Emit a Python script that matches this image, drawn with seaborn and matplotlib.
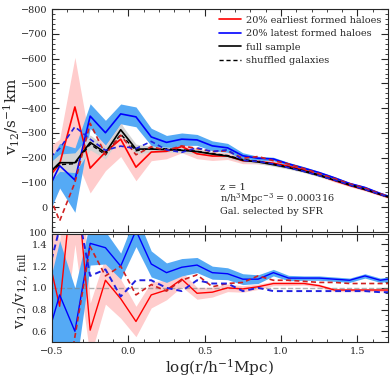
import matplotlib

matplotlib.use("Agg")

import matplotlib.pyplot as plt
import seaborn as sns
from matplotlib.ticker import MultipleLocator

# log(r / h^-1 Mpc) bin centres
logr = [-0.55, -0.45, -0.35, -0.25, -0.15, -0.05, 0.05, 0.15, 0.25, 0.35, 0.45, 0.55,
        0.65, 0.75, 0.85, 0.95, 1.05, 1.15, 1.25, 1.35, 1.45, 1.55, 1.65, 1.75]

# top panel: pairwise velocity v12 [km/s]
v12_full = [-120, -180, -180, -262, -220, -313, -235, -235, -233, -230, -225, -215,
            -207, -190, -183, -172, -160, -145, -128, -110, -90, -72, -52, -32]
v12_full_err = [40, 35, 40, 30, 25, 25, 20, 12, 10, 10, 10, 8, 8, 7, 7, 6, 6, 5, 5, 5, 4, 4, 4, 4]
v12_early = [-100, -175, -405, -158, -223, -275, -162, -223, -226, -245, -216, -207,
             -207, -188, -185, -178, -166, -150, -130, -108, -88, -71, -51, -31]
v12_early_err = [130, 100, 200, 100, 75, 70, 55, 35, 30, 25, 20, 18, 14, 12, 10, 9, 8, 7, 6, 6, 5, 5, 5, 5]
v12_late = [-40, -168, -110, -368, -301, -377, -365, -284, -262, -275, -272, -248,
            -240, -208, -198, -195, -175, -158, -140, -119, -96, -80, -56, -35]
v12_late_err = [110, 90, 130, 50, 50, 40, 40, 35, 28, 25, 22, 20, 18, 12, 8, 7, 6, 6, 5, 5, 4, 4, 4, 4]
v12_full_shuf = [-130, -172, -176, -255, -212, -295, -228, -238, -236, -232, -226, -217,
                 -209, -193, -186, -175, -162, -148, -131, -112, -92, -74, -54, -34]
v12_early_shuf = [-100, 55, -100, -339, -213, -291, -212, -244, -230, -248, -237, -225,
                  -228, -198, -205, -188, -175, -156, -136, -116, -95, -77, -55, -35]
v12_late_shuf = [-180, -237, -325, -275, -230, -247, -237, -266, -232, -222, -240, -225,
                 -232, -190, -185, -175, -160, -145, -128, -110, -90, -72, -52, -32]

# bottom panel: ratio to the full sample
ratio_early = [1.45, 0.83, 2.2, 0.61, 1.07, 0.90, 0.69, 0.935, 0.98, 1.08, 0.95, 0.96,
               1.0, 0.99, 1.01, 1.04, 1.04, 1.04, 1.02, 0.98, 0.98, 0.98, 0.98, 0.98]
ratio_early_err = [0.6, 0.6, 0.8, 0.25, 0.22, 0.18, 0.14, 0.12, 0.09, 0.07, 0.055, 0.045,
                   0.035, 0.03, 0.025, 0.02, 0.02, 0.015, 0.015, 0.015, 0.015, 0.015, 0.015, 0.015]
ratio_late = [0.45, 0.935, 0.60, 1.41, 1.37, 1.20, 1.53, 1.22, 1.14, 1.19, 1.21, 1.14,
              1.13, 1.08, 1.08, 1.14, 1.09, 1.09, 1.09, 1.08, 1.07, 1.11, 1.07, 1.09]
ratio_late_err = [0.4, 0.5, 0.4, 0.2, 0.15, 0.12, 0.15, 0.12, 0.09, 0.08, 0.07, 0.06,
                  0.055, 0.05, 0.04, 0.03, 0.025, 0.02, 0.02, 0.02, 0.02, 0.02, 0.02, 0.02]
ratio_early_shuf = [0.9, -0.3, 0.55, 1.38, 1.11, 1.20, 0.935, 1.03, 0.97, 1.07, 1.12, 1.01,
                    1.04, 1.05, 1.11, 1.07, 1.07, 1.06, 1.05, 1.05, 1.04, 1.04, 1.04, 1.04]
ratio_late_shuf = [1.0, 1.55, 1.85, 1.11, 1.17, 0.92, 1.07, 1.07, 1.0, 0.97, 1.07, 1.04,
                   1.04, 0.97, 1.0, 0.97, 0.97, 0.97, 0.97, 0.97, 0.97, 0.97, 0.96, 0.96]

RED = "#ff0000"
BLUE = "#0000ff"
PINK = "#ffcccc"
SKY = "#55aaf5"
GREY = "#d3d3d3"

sns.set_style("ticks", {"xtick.direction": "in", "ytick.direction": "in"})
plt.rcParams["font.family"] = ["DejaVu Serif"]
plt.rcParams["mathtext.fontset"] = "dejavuserif"
plt.rcParams["xtick.top"] = True
plt.rcParams["ytick.right"] = True


def band(ax, y, err, color):
    lo = [v - e for v, e in zip(y, err)]
    hi = [v + e for v, e in zip(y, err)]
    ax.fill_between(logr, lo, hi, color=color, lw=0)


def style_axis(ax):
    ax.set_xlim(-0.5, 1.7)
    ax.xaxis.set_major_locator(MultipleLocator(0.5))
    ax.xaxis.set_minor_locator(MultipleLocator(0.1))
    ax.tick_params(which="both", direction="in", top=True, right=True, labelsize=7)
    ax.tick_params(which="major", length=5, width=0.8)
    ax.tick_params(which="minor", length=2.5, width=0.6)
    for spine in ax.spines.values():
        spine.set_linewidth(0.8)


fig = plt.figure(figsize=(3.91, 3.78), dpi=100)
ax_top = fig.add_axes([0.133, 0.386, 0.859, 0.590])
ax_bot = fig.add_axes([0.133, 0.095, 0.859, 0.287])

# --- top panel
band(ax_top, v12_early, v12_early_err, PINK)
band(ax_top, v12_late, v12_late_err, SKY)
band(ax_top, v12_full, v12_full_err, GREY)
sns.lineplot(x=logr, y=v12_early, ax=ax_top, color=RED, lw=1.2, label="20% earliest formed haloes")
sns.lineplot(x=logr, y=v12_late, ax=ax_top, color=BLUE, lw=1.2, label="20% latest formed haloes")
sns.lineplot(x=logr, y=v12_full, ax=ax_top, color="black", lw=1.2, label="full sample")
sns.lineplot(x=logr, y=v12_full_shuf, ax=ax_top, color="#333333", lw=1.0, ls=(0, (3, 2)),
             label="shuffled galaxies")
sns.lineplot(x=logr, y=v12_early_shuf, ax=ax_top, color="#d02020", lw=1.2, ls=(0, (3, 2)))
sns.lineplot(x=logr, y=v12_late_shuf, ax=ax_top, color="#2020e0", lw=1.2, ls=(0, (3, 2)))

style_axis(ax_top)
ax_top.set_ylim(100, -800)
ax_top.yaxis.set_major_locator(MultipleLocator(100))
ax_top.yaxis.set_minor_locator(MultipleLocator(20))
ax_top.set_xticklabels([])
ax_top.set_ylabel(r"$\rm v_{12}/s^{-1}km$", fontsize=11)
ax_top.yaxis.set_label_coords(-0.09, 0.52)

handles, labels = ax_top.get_legend_handles_labels()
handles[3].set_color("black")
ax_top.legend(handles, labels, loc="upper right", frameon=False, fontsize=7,
              handlelength=2.2, handletextpad=0.5, labelspacing=0.45,
              borderaxespad=0.3)

ax_top.text(0.50, 0.19, "z = 1", transform=ax_top.transAxes, fontsize=7)
ax_top.text(0.50, 0.135, r"n/h$^3$Mpc$^{-3}$ = 0.000316", transform=ax_top.transAxes, fontsize=7)
ax_top.text(0.50, 0.08, "Gal. selected by SFR", transform=ax_top.transAxes, fontsize=7)

# --- bottom panel
band(ax_bot, ratio_early, ratio_early_err, PINK)
band(ax_bot, ratio_late, ratio_late_err, SKY)
ax_bot.axhline(1.0, color="grey", ls="--", lw=1.0, alpha=0.6)
sns.lineplot(x=logr, y=ratio_early, ax=ax_bot, color=RED, lw=1.0)
sns.lineplot(x=logr, y=ratio_late, ax=ax_bot, color=BLUE, lw=1.0)
sns.lineplot(x=logr, y=ratio_early_shuf, ax=ax_bot, color="#d02020", lw=1.2, ls=(0, (3, 2)))
sns.lineplot(x=logr, y=ratio_late_shuf, ax=ax_bot, color="#2020e0", lw=1.4, ls=(0, (3, 2)))

style_axis(ax_bot)
ax_bot.set_ylim(0.5, 1.5)
ax_bot.yaxis.set_major_locator(MultipleLocator(0.2))
ax_bot.yaxis.set_minor_locator(MultipleLocator(0.05))
ax_bot.set_xticks([-0.5, 0.0, 0.5, 1.0, 1.5])
ax_bot.set_xticklabels(["\u22120.5", "0.0", "0.5", "1.0", "1.5"])
ax_bot.set_yticks([0.6, 0.8, 1.0, 1.2, 1.4])
ax_bot.set_ylabel(r"$\rm v_{12}/v_{12,\,full}$", fontsize=11)
ax_bot.yaxis.set_label_coords(-0.064, 0.47)
ax_bot.set_xlabel(r"$\rm log(r/h^{-1}Mpc)$", fontsize=11)
ax_bot.xaxis.set_label_coords(0.5, -0.14)

fig.savefig("out.png", dpi=100)
plt.close(fig)
